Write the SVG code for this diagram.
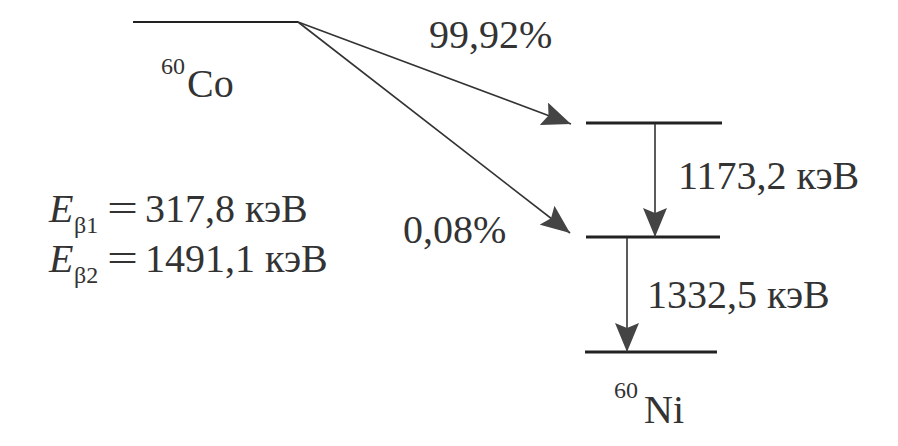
<svg xmlns="http://www.w3.org/2000/svg" width="898" height="446" viewBox="0 0 898 446">
<style>
text{font-family:'Liberation Serif','Times New Roman',serif;fill:#333}
.big{font-size:40px}
.sup{font-size:24px}
.it{font-style:italic}
.lvl{stroke:#222;stroke-width:3;fill:none}
.con{stroke:#333;stroke-width:1.6;fill:none}
</style>
<defs>
<marker id="ah" markerUnits="userSpaceOnUse" viewBox="0 0 29 24" refX="29" refY="12" markerWidth="29" markerHeight="24" orient="auto">
<path d="M0,0 L29,12 L0,24 L5,12 Z" fill="#444"/>
</marker>
</defs>
<rect width="898" height="446" fill="#fff"/>
<g id="co">
<line x1="133" y1="22" x2="298" y2="22" stroke="#222" stroke-width="2"/>
<text x="161" y="74" class="sup">60</text>
<text x="187" y="97" class="big">Co</text>
</g>
<g id="level1"><line class="lvl" x1="586" y1="123" x2="722" y2="123"/></g>
<g id="level2"><line class="lvl" x1="586" y1="237" x2="720" y2="237"/></g>
<g id="ni">
<line class="lvl" x1="585" y1="352" x2="717" y2="352"/>
<text x="614" y="398" class="sup">60</text>
<text x="644" y="423" class="big">Ni</text>
</g>
<g id="connectors">
<line class="con" x1="298" y1="22" x2="571" y2="124" marker-end="url(#ah)"/>
<line class="con" x1="298" y1="22" x2="570" y2="233" marker-end="url(#ah)"/>
<line class="con" x1="655" y1="124" x2="655" y2="237" marker-end="url(#ah)"/>
<line class="con" x1="627" y1="238" x2="627" y2="352" marker-end="url(#ah)"/>
</g>
<g id="labels">
<text x="429" y="48" class="big">99,92%</text>
<text x="403" y="243" class="big">0,08%</text>
<text x="678" y="189" class="big">1173,2 кэВ</text>
<text x="647" y="308" class="big">1332,5 кэВ</text>
</g>
<g id="energies">
<text x="49" y="222" class="big it">E</text>
<text x="74" y="233" class="sup">β1</text>
<text x="107" y="222" class="big" textLength="31" lengthAdjust="spacingAndGlyphs">=</text>
<text x="145" y="222" class="big">317,8 кэВ</text>
<text x="49" y="272" class="big it">E</text>
<text x="74" y="283" class="sup">β2</text>
<text x="107" y="272" class="big" textLength="31" lengthAdjust="spacingAndGlyphs">=</text>
<text x="145" y="272" class="big">1491,1 кэВ</text>
</g>
</svg>
